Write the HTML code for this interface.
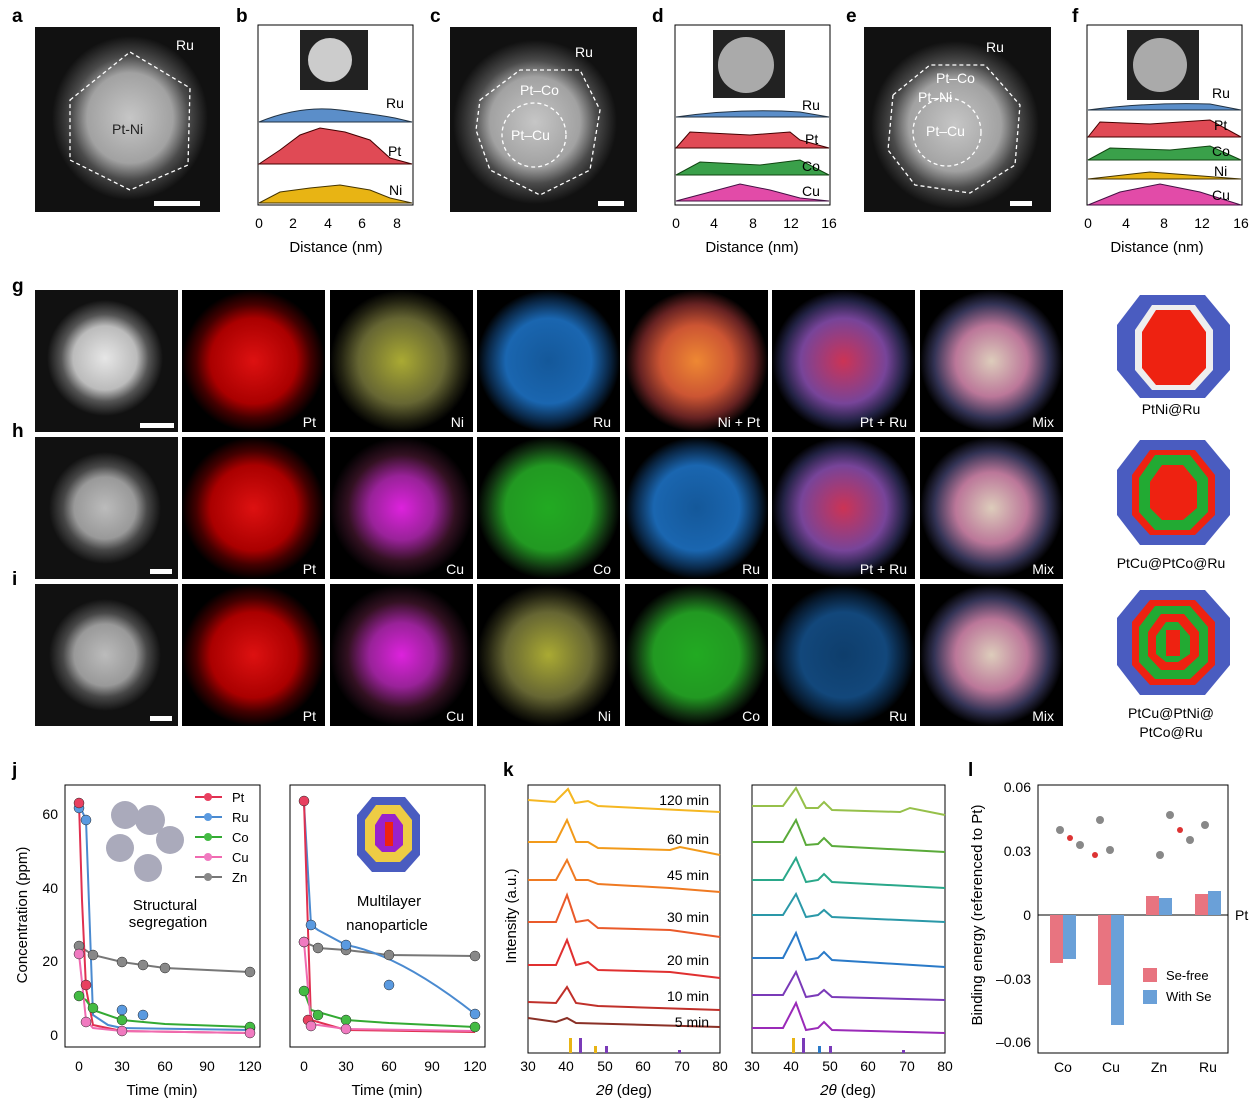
<!DOCTYPE html>
<html><head><meta charset="utf-8"><style>
body{margin:0;background:#fff;width:1258px;height:1111px;overflow:hidden}
svg{font-family:"Liberation Sans",sans-serif}
</style></head><body>
<svg width="1258" height="1111" viewBox="0 0 1258 1111" xmlns="http://www.w3.org/2000/svg">
<defs>
<radialGradient id="gw"><stop offset="0" stop-color="#e6e6e6"/><stop offset=".55" stop-color="#bbb"/><stop offset=".75" stop-color="#555"/><stop offset="1" stop-color="#111"/></radialGradient>
<radialGradient id="gr"><stop offset="0" stop-color="#d11"/><stop offset=".6" stop-color="#a00"/><stop offset=".8" stop-color="#400"/><stop offset="1" stop-color="#000"/></radialGradient>
<radialGradient id="gy"><stop offset="0" stop-color="#aa3"/><stop offset=".6" stop-color="#663"/><stop offset=".85" stop-color="#221"/><stop offset="1" stop-color="#000"/></radialGradient>
<radialGradient id="gb"><stop offset="0" stop-color="#14589a"/><stop offset=".6" stop-color="#1a66b0"/><stop offset=".85" stop-color="#0a2848"/><stop offset="1" stop-color="#000"/></radialGradient>
<radialGradient id="gm"><stop offset="0" stop-color="#d2d"/><stop offset=".45" stop-color="#929"/><stop offset=".75" stop-color="#312"/><stop offset="1" stop-color="#000"/></radialGradient>
<radialGradient id="gg"><stop offset="0" stop-color="#2a2"/><stop offset=".6" stop-color="#292"/><stop offset=".85" stop-color="#131"/><stop offset="1" stop-color="#000"/></radialGradient>
<radialGradient id="go"><stop offset="0" stop-color="#e83"/><stop offset=".5" stop-color="#c53"/><stop offset=".8" stop-color="#622"/><stop offset="1" stop-color="#000"/></radialGradient>
<radialGradient id="gp"><stop offset="0" stop-color="#c35"/><stop offset=".6" stop-color="#749"/><stop offset=".85" stop-color="#224"/><stop offset="1" stop-color="#000"/></radialGradient>
<radialGradient id="gx"><stop offset="0" stop-color="#dcb"/><stop offset=".5" stop-color="#b79"/><stop offset=".8" stop-color="#335"/><stop offset="1" stop-color="#000"/></radialGradient>
</defs>
<g font-size="19" font-weight="bold">
<text x="12" y="22">a</text><text x="236" y="22">b</text><text x="430" y="22">c</text><text x="652" y="22">d</text><text x="846" y="22">e</text><text x="1072" y="22">f</text>
<text x="12" y="292">g</text><text x="12" y="437">h</text><text x="12" y="585">i</text>
<text x="12" y="776">j</text><text x="503" y="776">k</text><text x="968" y="776">l</text>
</g>
<rect x="35" y="27" width="185" height="185" fill="#111"/>
<ellipse cx="130" cy="118" rx="78" ry="82" fill="url(#gw)" opacity=".85"/>
<polygon points="70,100 130,52 190,88 188,165 130,190 70,160" fill="none" stroke="#fff" stroke-dasharray="4,3" stroke-width="1.3"/>
<text x="112" y="134" fill="#222" font-size="14">Pt-Ni</text>
<text x="176" y="50" fill="#fff" font-size="14">Ru</text>
<rect x="154" y="201" width="46" height="5" fill="#fff"/>
<rect x="450" y="27" width="187" height="185" fill="#111"/>
<circle cx="535" cy="122" r="82" fill="url(#gw)" opacity=".85"/>
<polygon points="480,100 520,70 580,70 600,110 590,170 540,195 490,170 476,130" fill="none" stroke="#fff" stroke-dasharray="4,3" stroke-width="1.3"/>
<circle cx="534" cy="135" r="32" fill="none" stroke="#fff" stroke-dasharray="4,3" stroke-width="1.3"/>
<text x="520" y="95" fill="#fff" font-size="14">Pt–Co</text><text x="511" y="140" fill="#fff" font-size="14">Pt–Cu</text>
<text x="575" y="57" fill="#fff" font-size="14">Ru</text>
<rect x="598" y="201" width="26" height="5" fill="#fff"/>
<rect x="864" y="27" width="187" height="185" fill="#111"/>
<circle cx="955" cy="125" r="84" fill="url(#gw)" opacity=".85"/>
<polygon points="893,95 930,65 985,65 1020,105 1015,165 970,193 915,185 888,150" fill="none" stroke="#fff" stroke-dasharray="4,3" stroke-width="1.3"/>
<circle cx="947" cy="132" r="34" fill="none" stroke="#fff" stroke-dasharray="4,3" stroke-width="1.3"/>
<text x="936" y="83" fill="#fff" font-size="14">Pt–Co</text><text x="918" y="102" fill="#fff" font-size="14">Pt–Ni</text><text x="926" y="136" fill="#fff" font-size="14">Pt–Cu</text>
<text x="986" y="52" fill="#fff" font-size="14">Ru</text>
<rect x="1010" y="201" width="22" height="5" fill="#fff"/>
<g font-size="14">
<rect x="258" y="25" width="155" height="180" fill="none" stroke="#000"/>
<rect x="300" y="30" width="68" height="60" fill="#222"/><circle cx="330" cy="60" r="22" fill="#ccc"/>
<path d="M259 122 Q300 105 340 110 T395 118 L412 122 Z" fill="#5b8ec9" stroke="#234"/>
<path d="M259 164 L280 150 300 135 320 128 345 132 370 140 390 158 412 164 Z" fill="#e04a55" stroke="#400"/>
<path d="M259 203 L280 192 310 188 340 185 370 190 390 198 412 203 Z" fill="#e8b414" stroke="#430"/>
<text x="386" y="108">Ru</text><text x="388" y="156">Pt</text><text x="389" y="195">Ni</text>
<g text-anchor="middle"><text x="259" y="228">0</text><text x="293" y="228">2</text><text x="328" y="228">4</text><text x="362" y="228">6</text><text x="397" y="228">8</text>
<text x="336" y="252" font-size="15">Distance (nm)</text></g>
</g>
<g font-size="14">
<rect x="675" y="25" width="155" height="180" fill="none" stroke="#000"/>
<rect x="713" y="30" width="72" height="68" fill="#222"/><circle cx="746" cy="65" r="28" fill="#aaa"/>
<path d="M676 117 Q740 108 800 112 L829 117Z" fill="#5b8ec9" stroke="#234"/>
<path d="M676 148 L690 132 750 135 790 132 800 140 829 148Z" fill="#e04a55" stroke="#400"/>
<path d="M676 175 L700 162 760 165 800 160 829 175Z" fill="#3aa04a" stroke="#141"/>
<path d="M676 201 L710 192 740 184 770 190 800 198 829 201Z" fill="#e24ba8" stroke="#414"/>
<text x="802" y="110">Ru</text><text x="805" y="144">Pt</text><text x="802" y="171">Co</text><text x="802" y="196">Cu</text>
<g text-anchor="middle"><text x="676" y="228">0</text><text x="714" y="228">4</text><text x="753" y="228">8</text><text x="791" y="228">12</text><text x="829" y="228">16</text>
<text x="752" y="252" font-size="15">Distance (nm)</text></g>
</g>
<g font-size="14">
<rect x="1087" y="25" width="155" height="180" fill="none" stroke="#000"/>
<rect x="1127" y="30" width="72" height="70" fill="#222"/><circle cx="1160" cy="65" r="27" fill="#aaa"/>
<path d="M1088 110 Q1150 102 1210 104 L1241 110Z" fill="#5b8ec9" stroke="#234"/>
<path d="M1088 137 L1100 122 1150 124 1210 120 1241 137Z" fill="#e04a55" stroke="#400"/>
<path d="M1088 160 L1110 148 1170 150 1210 146 1241 160Z" fill="#3aa04a" stroke="#141"/>
<path d="M1088 179 L1150 172 1241 179Z" fill="#e8b414" stroke="#430"/>
<path d="M1088 205 L1120 192 1160 184 1200 192 1241 205Z" fill="#e24ba8" stroke="#414"/>
<text x="1212" y="98">Ru</text><text x="1214" y="130">Pt</text><text x="1212" y="156">Co</text><text x="1214" y="176">Ni</text><text x="1212" y="200">Cu</text>
<g text-anchor="middle"><text x="1088" y="228">0</text><text x="1126" y="228">4</text><text x="1164" y="228">8</text><text x="1202" y="228">12</text><text x="1241" y="228">16</text>
<text x="1157" y="252" font-size="15">Distance (nm)</text></g>
</g>
<g font-size="14" fill="#fff" text-anchor="end">
<g>
<rect x="35" y="290" width="143" height="142" fill="#111"/><circle cx="105" cy="358" r="58" fill="url(#gw)"/><rect x="140" y="423" width="34" height="5"/>
<rect x="182" y="290" width="143" height="142" fill="url(#gr)"/><text x="316" y="427">Pt</text>
<rect x="330" y="290" width="143" height="142" fill="url(#gy)"/><text x="464" y="427">Ni</text>
<rect x="477" y="290" width="143" height="142" fill="url(#gb)"/><text x="611" y="427">Ru</text>
<rect x="625" y="290" width="143" height="142" fill="url(#go)"/><text x="760" y="427">Ni + Pt</text>
<rect x="772" y="290" width="143" height="142" fill="url(#gp)"/><text x="907" y="427">Pt + Ru</text>
<rect x="920" y="290" width="143" height="142" fill="url(#gx)"/><text x="1054" y="427">Mix</text>
</g>
<g>
<rect x="35" y="437" width="143" height="142" fill="#111"/><circle cx="105" cy="508" r="56" fill="url(#gw)" opacity=".8"/><rect x="150" y="569" width="22" height="5"/>
<rect x="182" y="437" width="143" height="142" fill="url(#gr)"/><text x="316" y="574">Pt</text>
<rect x="330" y="437" width="143" height="142" fill="url(#gm)"/><text x="464" y="574">Cu</text>
<rect x="477" y="437" width="143" height="142" fill="url(#gg)"/><text x="611" y="574">Co</text>
<rect x="625" y="437" width="143" height="142" fill="url(#gb)"/><text x="760" y="574">Ru</text>
<rect x="772" y="437" width="143" height="142" fill="url(#gp)"/><text x="907" y="574">Pt + Ru</text>
<rect x="920" y="437" width="143" height="142" fill="url(#gx)"/><text x="1054" y="574">Mix</text>
</g>
<g>
<rect x="35" y="584" width="143" height="142" fill="#111"/><circle cx="105" cy="655" r="56" fill="url(#gw)" opacity=".8"/><rect x="150" y="716" width="22" height="5"/>
<rect x="182" y="584" width="143" height="142" fill="url(#gr)"/><text x="316" y="721">Pt</text>
<rect x="330" y="584" width="143" height="142" fill="url(#gm)"/><text x="464" y="721">Cu</text>
<rect x="477" y="584" width="143" height="142" fill="url(#gy)"/><text x="611" y="721">Ni</text>
<rect x="625" y="584" width="143" height="142" fill="url(#gg)"/><text x="760" y="721">Co</text>
<rect x="772" y="584" width="143" height="142" fill="#000"/><rect x="772" y="584" width="143" height="142" fill="url(#gb)" opacity=".7"/><text x="907" y="721">Ru</text>
<rect x="920" y="584" width="143" height="142" fill="url(#gx)"/><text x="1054" y="721">Mix</text>
</g>
</g>
<g font-size="14" text-anchor="middle">
<polygon points="1140,295 1205,295 1230,325 1230,370 1205,398 1140,398 1117,370 1117,325" fill="#4a5cc0"/>
<polygon points="1152,305 1195,305 1213,330 1213,370 1195,390 1152,390 1135,370 1135,330" fill="#eee"/>
<polygon points="1156,310 1190,310 1206,332 1206,368 1190,385 1156,385 1142,368 1142,332" fill="#e21"/>
<text x="1171" y="414">PtNi@Ru</text>
<polygon points="1140,440 1205,440 1230,470 1230,515 1205,545 1140,545 1117,515 1117,470" fill="#4a5cc0"/>
<polygon points="1150,450 1195,450 1215,475 1215,515 1195,535 1150,535 1132,515 1132,475" fill="#e21"/>
<polygon points="1155,455 1190,455 1208,478 1208,512 1190,530 1155,530 1139,512 1139,478" fill="#2a3"/>
<polygon points="1162,465 1183,465 1197,482 1197,508 1183,520 1162,520 1150,508 1150,482" fill="#e21"/>
<text x="1171" y="568">PtCu@PtCo@Ru</text>
<polygon points="1140,590 1205,590 1230,618 1230,665 1205,695 1140,695 1117,665 1117,618" fill="#4a5cc0"/>
<polygon points="1150,600 1195,600 1215,622 1215,665 1195,685 1150,685 1132,665 1132,622" fill="#e21"/>
<polygon points="1155,606 1190,606 1208,627 1208,662 1190,679 1155,679 1139,662 1139,627" fill="#2a3"/>
<polygon points="1161,614 1184,614 1199,632 1199,656 1184,670 1161,670 1148,656 1148,632" fill="#e21"/>
<polygon points="1166,622 1178,622 1190,636 1190,654 1178,662 1166,662 1156,654 1156,636" fill="#2a3"/>
<rect x="1166" y="630" width="14" height="26" fill="#e21"/>
<text x="1171" y="718">PtCu@PtNi@</text><text x="1171" y="737">PtCo@Ru</text>
</g>
<g font-size="14">
<rect x="65" y="785" width="195" height="262" fill="none" stroke="#000"/>
<rect x="290" y="785" width="195" height="262" fill="none" stroke="#000"/>
<g text-anchor="end"><text x="58" y="819">60</text><text x="58" y="966">20</text><text x="58" y="1040">0</text><text x="58" y="893">40</text></g>
<text transform="translate(27,915) rotate(-90)" text-anchor="middle" font-size="15">Concentration (ppm)</text>
<g text-anchor="middle">
<text x="79" y="1071">0</text><text x="122" y="1071">30</text><text x="165" y="1071">60</text><text x="207" y="1071">90</text><text x="250" y="1071">120</text>
<text x="304" y="1071">0</text><text x="346" y="1071">30</text><text x="389" y="1071">60</text><text x="432" y="1071">90</text><text x="475" y="1071">120</text>
<text x="162" y="1095" font-size="15">Time (min)</text><text x="387" y="1095" font-size="15">Time (min)</text>
<text x="165" y="910" font-size="15">Structural</text><text x="168" y="927" font-size="15">segregation</text>
<text x="389" y="906" font-size="15">Multilayer</text><text x="387" y="930" font-size="15">nanoparticle</text>
</g>
<g fill="none" stroke-width="2">
<path d="M79 946 L93 955 L122 962 L143 965 L165 968 L250 972" stroke="#777"/>
<path d="M79 804 L86 820 L93 1015 L108 1025 L122 1028 L250 1030" stroke="#4a8ad0"/>
<path d="M79 803 L82 900 L86 988 L93 1025 L122 1031 L250 1033" stroke="#e03050"/>
<path d="M79 996 L86 1000 L93 1010 L122 1020 L165 1024 L250 1027" stroke="#3a3"/>
<path d="M79 954 L86 1020 L93 1028 L122 1031 L250 1033" stroke="#f06ab0"/>
<path d="M304 942 L318 948 L346 950 L389 955 L475 956" stroke="#777"/>
<path d="M304 803 L311 925 L318 930 L346 945 Q400 955 475 1014" stroke="#4a8ad0"/>
<path d="M304 801 L308 930 L311 1020 L346 1030 L475 1032" stroke="#e03050"/>
<path d="M304 991 L311 1010 L346 1020 L389 1023 L475 1027" stroke="#3a3"/>
<path d="M304 942 L311 1024 L346 1029 L475 1031" stroke="#f06ab0"/>
</g>
<g stroke="#222" stroke-width=".5">
<g fill="#888"><circle cx="79" cy="946" r="5"/><circle cx="93" cy="955" r="5"/><circle cx="122" cy="962" r="5"/><circle cx="143" cy="965" r="5"/><circle cx="165" cy="968" r="5"/><circle cx="250" cy="972" r="5"/><circle cx="304" cy="942" r="5"/><circle cx="318" cy="948" r="5"/><circle cx="346" cy="950" r="5"/><circle cx="389" cy="955" r="5"/><circle cx="475" cy="956" r="5"/></g>
<g fill="#5a9ae0"><circle cx="79" cy="808" r="5"/><circle cx="86" cy="820" r="5"/><circle cx="122" cy="1010" r="5"/><circle cx="143" cy="1015" r="5"/><circle cx="250" cy="1028" r="5"/><circle cx="311" cy="925" r="5"/><circle cx="346" cy="945" r="5"/><circle cx="389" cy="985" r="5"/><circle cx="475" cy="1014" r="5"/></g>
<g fill="#e84060"><circle cx="79" cy="803" r="5"/><circle cx="86" cy="985" r="5"/><circle cx="304" cy="801" r="5"/><circle cx="308" cy="1020" r="5"/></g>
<g fill="#4b4"><circle cx="79" cy="996" r="5"/><circle cx="93" cy="1008" r="5"/><circle cx="122" cy="1020" r="5"/><circle cx="250" cy="1027" r="5"/><circle cx="304" cy="991" r="5"/><circle cx="318" cy="1015" r="5"/><circle cx="346" cy="1020" r="5"/><circle cx="475" cy="1027" r="5"/></g>
<g fill="#f07ac0"><circle cx="79" cy="954" r="5"/><circle cx="86" cy="1022" r="5"/><circle cx="122" cy="1031" r="5"/><circle cx="250" cy="1033" r="5"/><circle cx="304" cy="942" r="5"/><circle cx="311" cy="1026" r="5"/><circle cx="346" cy="1029" r="5"/></g>
</g>
<g font-size="13">
<line x1="195" y1="797" x2="222" y2="797" stroke="#e03050" stroke-width="2"/><circle cx="208" cy="797" r="4" fill="#e84060"/><text x="232" y="802">Pt</text>
<line x1="195" y1="817" x2="222" y2="817" stroke="#4a8ad0" stroke-width="2"/><circle cx="208" cy="817" r="4" fill="#5a9ae0"/><text x="232" y="822">Ru</text>
<line x1="195" y1="837" x2="222" y2="837" stroke="#3a3" stroke-width="2"/><circle cx="208" cy="837" r="4" fill="#4b4"/><text x="232" y="842">Co</text>
<line x1="195" y1="857" x2="222" y2="857" stroke="#f06ab0" stroke-width="2"/><circle cx="208" cy="857" r="4" fill="#f07ac0"/><text x="232" y="862">Cu</text>
<line x1="195" y1="877" x2="222" y2="877" stroke="#777" stroke-width="2"/><circle cx="208" cy="877" r="4" fill="#888"/><text x="232" y="882">Zn</text>
</g>
<g fill="#aab"><circle cx="125" cy="815" r="14"/><circle cx="150" cy="820" r="15"/><circle cx="170" cy="840" r="14"/><circle cx="120" cy="848" r="14"/><circle cx="148" cy="868" r="14"/></g>
<polygon points="372,797 405,797 420,815 420,855 405,872 372,872 357,855 357,815" fill="#4a5cc0"/>
<polygon points="376,805 400,805 412,820 412,850 400,862 376,862 365,850 365,820" fill="#ec4"/>
<polygon points="382,814 395,814 403,825 403,845 395,852 382,852 375,845 375,825" fill="#92c"/>
<rect x="385" y="822" width="8" height="24" fill="#e21"/>
</g>
<g font-size="14">
<rect x="528" y="785" width="192" height="268" fill="none" stroke="#000"/>
<rect x="752" y="785" width="193" height="268" fill="none" stroke="#000"/>
<text transform="translate(516,916) rotate(-90)" text-anchor="middle" font-size="15">Intensity (a.u.)</text>
<g text-anchor="middle"><text x="528" y="1071">30</text><text x="566" y="1071">40</text><text x="605" y="1071">50</text><text x="643" y="1071">60</text><text x="682" y="1071">70</text><text x="720" y="1071">80</text>
<text x="752" y="1071">30</text><text x="791" y="1071">40</text><text x="830" y="1071">50</text><text x="868" y="1071">60</text><text x="907" y="1071">70</text><text x="945" y="1071">80</text>
<text x="624" y="1095" font-size="15"><tspan font-style="italic">2θ</tspan> (deg)</text><text x="848" y="1095" font-size="15"><tspan font-style="italic">2θ</tspan> (deg)</text></g>
<g fill="none" stroke-width="2">
<path d="M528 800 L555 802 L568 789 L575 803 L588 801 L598 806 L720 812" stroke="#f5b722"/>
<path d="M528 842 L556 842 L567 820 L576 842 L588 842 L598 848 L670 850 L680 847 L720 855" stroke="#f29a1a"/>
<path d="M528 880 L556 880 L567 860 L576 880 L588 880 L598 884 L670 888 L720 892" stroke="#ef7a22"/>
<path d="M528 922 L556 922 L567 895 L576 922 L588 920 L598 928 L670 930 L720 937" stroke="#ea5a2a"/>
<path d="M528 965 L556 965 L567 940 L576 965 L588 962 L598 970 L670 972 L720 978" stroke="#e03030"/>
<path d="M528 1002 L556 1003 L567 987 L576 1003 L598 1006 L720 1010" stroke="#c0302a"/>
<path d="M528 1018 L556 1022 L567 1018 L576 1023 L720 1027" stroke="#8a3026"/>
<path d="M752 806 L783 806 L796 788 L806 808 L818 808 L824 802 L832 810 L900 812 L910 808 L945 815" stroke="#96c04a"/>
<path d="M752 842 L783 842 L796 820 L806 845 L818 844 L824 838 L832 846 L945 852" stroke="#5aaa3a"/>
<path d="M752 880 L783 880 L796 858 L806 882 L818 880 L824 874 L832 882 L945 888" stroke="#2aa88a"/>
<path d="M752 915 L783 915 L796 894 L806 917 L818 915 L824 910 L832 917 L945 922" stroke="#2a98a8"/>
<path d="M752 958 L783 958 L796 933 L806 960 L818 958 L824 952 L832 960 L945 967" stroke="#2a7ac8"/>
<path d="M752 995 L783 995 L796 972 L806 997 L818 995 L824 990 L832 997 L945 1000" stroke="#7a3ab8"/>
<path d="M752 1028 L783 1028 L796 1003 L806 1030 L818 1028 L824 1022 L832 1030 L945 1033" stroke="#9a2ab8"/>
</g>
<g text-anchor="end"><text x="709" y="805">120 min</text><text x="709" y="844">60 min</text><text x="709" y="880">45 min</text><text x="709" y="922">30 min</text><text x="709" y="965">20 min</text><text x="709" y="1001">10 min</text><text x="709" y="1027">5 min</text></g>
<g><rect x="569" y="1038" width="3" height="15" fill="#e8b414"/><rect x="579" y="1038" width="3" height="15" fill="#7a3ab8"/><rect x="594" y="1046" width="3" height="7" fill="#e8b414"/><rect x="605" y="1046" width="3" height="7" fill="#7a3ab8"/><rect x="678" y="1050" width="3" height="3" fill="#7a3ab8"/>
<rect x="792" y="1038" width="3" height="15" fill="#e8b414"/><rect x="802" y="1038" width="3" height="15" fill="#7a3ab8"/><rect x="818" y="1046" width="3" height="7" fill="#2a7ac8"/><rect x="829" y="1046" width="3" height="7" fill="#7a3ab8"/><rect x="902" y="1050" width="3" height="3" fill="#7a3ab8"/></g>
</g>
<g font-size="14">
<rect x="1038" y="785" width="190" height="268" fill="none" stroke="#000"/>
<line x1="1038" y1="915" x2="1228" y2="915" stroke="#000"/>
<g text-anchor="end"><text x="1031" y="792">0.06</text><text x="1031" y="856">0.03</text><text x="1031" y="920">0</text><text x="1031" y="984">–0.03</text><text x="1031" y="1047">–0.06</text></g>
<text x="1235" y="920">Pt</text>
<text transform="translate(982,915) rotate(-90)" text-anchor="middle" font-size="15">Binding energy (referenced to Pt)</text>
<rect x="1050" y="915" width="13" height="48" fill="#e87480"/><rect x="1063" y="915" width="13" height="44" fill="#6aa0d8"/>
<rect x="1098" y="915" width="13" height="70" fill="#e87480"/><rect x="1111" y="915" width="13" height="110" fill="#6aa0d8"/>
<rect x="1146" y="896" width="13" height="19" fill="#e87480"/><rect x="1159" y="898" width="13" height="17" fill="#6aa0d8"/>
<rect x="1195" y="894" width="13" height="21" fill="#e87480"/><rect x="1208" y="891" width="13" height="24" fill="#6aa0d8"/>
<rect x="1143" y="968" width="14" height="14" fill="#e87480"/><text x="1166" y="980" font-size="13">Se-free</text>
<rect x="1143" y="990" width="14" height="14" fill="#6aa0d8"/><text x="1166" y="1001" font-size="13">With Se</text>
<g text-anchor="middle"><text x="1063" y="1072">Co</text><text x="1111" y="1072">Cu</text><text x="1159" y="1072">Zn</text><text x="1208" y="1072">Ru</text></g>
<g fill="#888"><circle cx="1060" cy="830" r="4"/><circle cx="1080" cy="845" r="4"/><circle cx="1100" cy="820" r="4"/><circle cx="1110" cy="850" r="4"/><circle cx="1170" cy="815" r="4"/><circle cx="1190" cy="840" r="4"/><circle cx="1205" cy="825" r="4"/><circle cx="1160" cy="855" r="4"/></g>
<g fill="#d33"><circle cx="1070" cy="838" r="3"/><circle cx="1095" cy="855" r="3"/><circle cx="1180" cy="830" r="3"/></g>
</g>
</svg>
</body></html>
